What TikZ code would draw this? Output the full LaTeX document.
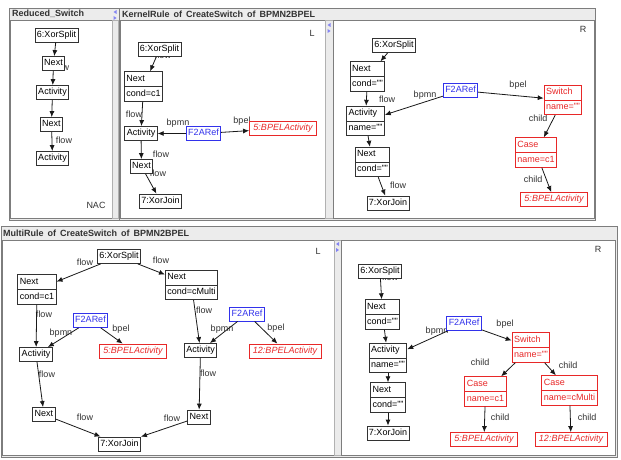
\documentclass[tikz,border=0pt]{standalone}
\usepackage{fontspec}
\setmainfont{Liberation Sans}
\usetikzlibrary{positioning}
\usetikzlibrary{arrows.meta}
\usetikzlibrary{shapes.multipart}
\definecolor{aggred}{RGB}{232,40,40}
\definecolor{aggblue}{RGB}{50,50,235}
\definecolor{aggtxt}{RGB}{50,50,50}
\definecolor{barfill}{RGB}{236,236,236}
\definecolor{framegray}{RGB}{125,125,125}
\tikzset{
  obj/.style={draw=aggtxt,fill=white,line width=0.8pt,font=\fontsize{9}{10.5}\selectfont,inner xsep=2pt,inner ysep=1.75pt},
  objtwo/.style={obj,rectangle split,rectangle split parts=2,rectangle split part align=left},
  refbox/.style={obj,draw=aggblue,text=aggblue},
  bpelbox/.style={obj,draw=aggred,text=aggred,font=\fontsize{9}{10.5}\selectfont\itshape,inner xsep=4pt},
  bpeltwo/.style={objtwo,draw=aggred,text=aggred},
  lbl/.style={text=aggtxt,font=\fontsize{9}{10.5}\selectfont,inner sep=0pt},
  arr/.style={->,>={Latex[length=6pt,width=5pt]},line width=0.8pt,draw=black!90},
  ttl/.style={anchor=west,text=aggtxt,font=\fontsize{9}{10}\selectfont\bfseries,inner sep=0pt,execute at begin node={\spaceskip=4pt\relax}},
  pane/.style={draw=framegray,fill=white,line width=0.8pt},
  sbar/.style={draw=framegray!60,fill=black!8},
  tick/.style={fill=aggblue!60}
}
\begin{document}
\begin{tikzpicture}[x=1pt,y=-1pt]
      \path[use as bounding box,fill=white] (0,0) rectangle (621,460);
      \draw[framegray,fill=barfill] (9,8) rectangle (119,220);
      \draw[pane] (10,20) rectangle (112,218);
      \draw[sbar] (112,20) rectangle (118,218);
      \node[ttl] (t1) at (12,14) {Reduced\_Switch};
      \draw[framegray,fill=barfill] (119,8) rectangle (595,220);
      \draw[pane] (120,20) rectangle (325,218);
      \draw[sbar] (325,20) rectangle (333,218);
      \draw[pane] (333,20) rectangle (594,218);
      \node[ttl] (t2) at (122,14) {KernelRule of CreateSwitch of BPMN2BPEL};
      \draw[framegray,fill=barfill] (1,226) rectangle (617,457);
      \draw[pane] (2,240) rectangle (334,455);
      \draw[sbar] (334,240) rectangle (341,455);
      \draw[pane] (341,240) rectangle (615,455);
      \node[ttl] (t3) at (3,233) {MultiRule of CreateSwitch of BPMN2BPEL};
      \fill[tick] (113.5,12) -- (116.5,10) -- (116.5,14) -- cycle;
      \fill[tick] (113.5,16) -- (116.5,18) -- (113.5,20) -- cycle;
      \fill[tick] (327.5,25) -- (330.5,23) -- (330.5,27) -- cycle;
      \fill[tick] (327.5,29) -- (330.5,31) -- (327.5,33) -- cycle;
      \fill[tick] (336,244) -- (339,242) -- (339,246) -- cycle;
      \fill[tick] (336,248) -- (339,250) -- (336,252) -- cycle;

      \node[lbl] (rsf1) at (61,67) {flow};
      \node[lbl] (rsf2) at (60,97) {flow};
      \node[lbl] (rsf3) at (64,140) {flow};
      \node[lbl] (nac) at (96,205) {NAC};
      \node[obj] (rsx) at (56.5,35) {\strut 6:XorSplit};
      \node[obj] (rsn1) at (53.5,63.5) {\strut Next};
      \node[obj] (rsa1) at (52.5,92.5) {\strut Activity};
      \node[obj] (rsn2) at (51.5,124.5) {\strut Next};
      \node[obj] (rsa2) at (52.5,158.5) {\strut Activity};
      \draw[arr] (rsx) -- (rsn1);
      \draw[arr] (rsn1) -- (rsa1);
      \draw[arr] (rsa1) -- (rsn2);
      \draw[arr] (rsn2) -- (rsa2);

      \node[lbl] (klf0) at (163,55) {flow};
      \node[lbl] (klf1) at (134,114) {flow};
      \node[lbl] (klp) at (178,123) {bpmn};
      \node[lbl] (kle) at (242,121) {bpel};
      \node[lbl] (klf2) at (161,154) {flow};
      \node[lbl] (klf3) at (158,173) {flow};
      \node[lbl] (kll) at (312,33) {L};
      \node[obj] (klx) at (159.5,49.5) {\strut 6:XorSplit};
      \node[objtwo] (kln1) at (143.5,86.5) {\strut Next\nodepart{two}\strut cond=c1};
      \node[obj] (kla) at (141,133.5) {\strut Activity};
      \node[refbox] (klr) at (203.5,133.5) {\strut F2ARef};
      \node[bpelbox] (klb) at (283,128.5) {\strut 5:BPELActivity};
      \node[obj] (kln2) at (141.5,166.5) {\strut Next};
      \node[obj] (klj) at (160.5,201) {\strut 7:XorJoin};
      \draw[arr] (klx) -- (kln1);
      \draw[arr] (kln1) -- (kla);
      \draw[arr] (klr) -- (kla);
      \draw[arr] (klr) -- (klb);
      \draw[arr] (kla) -- (kln2);
      \draw[arr] (kln2) -- (klj);

      \node[lbl] (krf1) at (387,99) {flow};
      \node[lbl] (krp) at (425,95) {bpmn};
      \node[lbl] (kre) at (518,85) {bpel};
      \node[lbl] (krc1) at (538,118) {child};
      \node[lbl] (krc2) at (533,179) {child};
      \node[lbl] (krf2) at (398,185) {flow};
      \node[lbl] (krr) at (583,29) {R};
      \node[obj] (krx) at (394,45.5) {\strut 6:XorSplit};
      \node[objtwo] (krn1) at (367.5,76.5) {\strut Next\nodepart{two}\strut cond=""};
      \node[objtwo] (kra) at (365.5,121) {\strut Activity\nodepart{two}\strut name=""};
      \node[objtwo] (krn2) at (372.5,162) {\strut Next\nodepart{two}\strut cond=""};
      \node[obj] (krj) at (388,203) {\strut 7:XorJoin};
      \node[refbox] (krr2) at (460.5,90.5) {\strut F2ARef};
      \node[bpeltwo] (krs) at (563,100) {\strut Switch\nodepart{two}\strut name=""};
      \node[bpeltwo] (krc) at (536,152.5) {\strut Case\nodepart{two}\strut name=c1};
      \node[bpelbox] (krb) at (554,199.5) {\strut 5:BPELActivity};
      \draw[arr] (krx) -- (krn1);
      \draw[arr] (krn1) -- (kra);
      \draw[arr] (krr2) -- (kra);
      \draw[arr] (krr2) -- (krs);
      \draw[arr] (krs) -- (krc);
      \draw[arr] (krc) -- (krb);
      \draw[arr] (kra) -- (krn2);
      \draw[arr] (krn2) -- (krj);

      \node[lbl] (mlf1) at (85,262) {flow};
      \node[lbl] (mlf2) at (161,260) {flow};
      \node[lbl] (mlf3) at (44,314) {flow};
      \node[lbl] (mlf4) at (204,310) {flow};
      \node[lbl] (mlp1) at (61,333) {bpmn};
      \node[lbl] (mle1) at (121,329) {bpel};
      \node[lbl] (mlp2) at (222,329) {bpmn};
      \node[lbl] (mle2) at (276,328) {bpel};
      \node[lbl] (mlf5) at (47,374) {flow};
      \node[lbl] (mlf6) at (208,373) {flow};
      \node[lbl] (mlf7) at (85,417) {flow};
      \node[lbl] (mlf8) at (172,418) {flow};
      \node[lbl] (mll) at (318,251) {L};
      \node[obj] (mlx) at (119,256.5) {\strut 6:XorSplit};
      \node[objtwo] (mln1) at (37,289.5) {\strut Next\nodepart{two}\strut cond=c1};
      \node[objtwo] (mln2) at (191.5,285) {\strut Next\nodepart{two}\strut cond=cMulti};
      \node[refbox] (mlr1) at (90.5,320.5) {\strut F2ARef};
      \node[bpelbox] (mlb1) at (133,351) {\strut 5:BPELActivity};
      \node[obj] (mla1) at (36,354.5) {\strut Activity};
      \node[refbox] (mlr2) at (247,314) {\strut F2ARef};
      \node[obj] (mla2) at (200.5,350.5) {\strut Activity};
      \node[bpelbox] (mlb2) at (285,351) {\strut 12:BPELActivity};
      \node[obj] (mln3) at (44,414.5) {\strut Next};
      \node[obj] (mln4) at (199,417) {\strut Next};
      \node[obj] (mlj) at (119.5,444) {\strut 7:XorJoin};
      \draw[arr] (mlx) -- (mln1);
      \draw[arr] (mlx) -- (mln2);
      \draw[arr] (mln1) -- (mla1);
      \draw[arr] (mln2) -- (mla2);
      \draw[arr] (mlr1) -- (mla1);
      \draw[arr] (mlr1) -- (mlb1);
      \draw[arr] (mlr2) -- (mla2);
      \draw[arr] (mlr2) -- (mlb2);
      \draw[arr] (mla1) -- (mln3);
      \draw[arr] (mla2) -- (mln4);
      \draw[arr] (mln3) -- (mlj);
      \draw[arr] (mln4) -- (mlj);

      \node[lbl] (mrf1) at (390,277) {flow};
      \node[lbl] (mrp) at (437,331) {bpmn};
      \node[lbl] (mre) at (505,324) {bpel};
      \node[lbl] (mrc1) at (480,362) {child};
      \node[lbl] (mrc2) at (568,365) {child};
      \node[lbl] (mrc3) at (500,417) {child};
      \node[lbl] (mrc4) at (587,417) {child};
      \node[lbl] (mrr) at (598,249) {R};
      \node[obj] (mrx) at (380,271) {\strut 6:XorSplit};
      \node[objtwo] (mrn1) at (382.5,314.5) {\strut Next\nodepart{two}\strut cond=""};
      \node[objtwo] (mra) at (388,358) {\strut Activity\nodepart{two}\strut name=""};
      \node[objtwo] (mrn2) at (388,397.5) {\strut Next\nodepart{two}\strut cond=""};
      \node[obj] (mrj) at (388,433) {\strut 7:XorJoin};
      \node[refbox] (mrr2) at (464,323.5) {\strut F2ARef};
      \node[bpeltwo] (mrs) at (531,347.5) {\strut Switch\nodepart{two}\strut name=""};
      \node[bpeltwo] (mrca) at (485.5,391.5) {\strut Case\nodepart{two}\strut name=c1};
      \node[bpeltwo] (mrcb) at (569.5,390.5) {\strut Case\nodepart{two}\strut name=cMulti};
      \node[bpelbox] (mrb1) at (484,439.5) {\strut 5:BPELActivity};
      \node[bpelbox] (mrb2) at (571,439.5) {\strut 12:BPELActivity};
      \draw[arr] (mrx) -- (mrn1);
      \draw[arr] (mrn1) -- (mra);
      \draw[arr] (mrr2) -- (mra);
      \draw[arr] (mrr2) -- (mrs);
      \draw[arr] (mrs) -- (mrca);
      \draw[arr] (mrs) -- (mrcb);
      \draw[arr] (mrca) -- (mrb1);
      \draw[arr] (mrcb) -- (mrb2);
      \draw[arr] (mra) -- (mrn2);
      \draw[arr] (mrn2) -- (mrj);
    \end{tikzpicture}
\end{document}
